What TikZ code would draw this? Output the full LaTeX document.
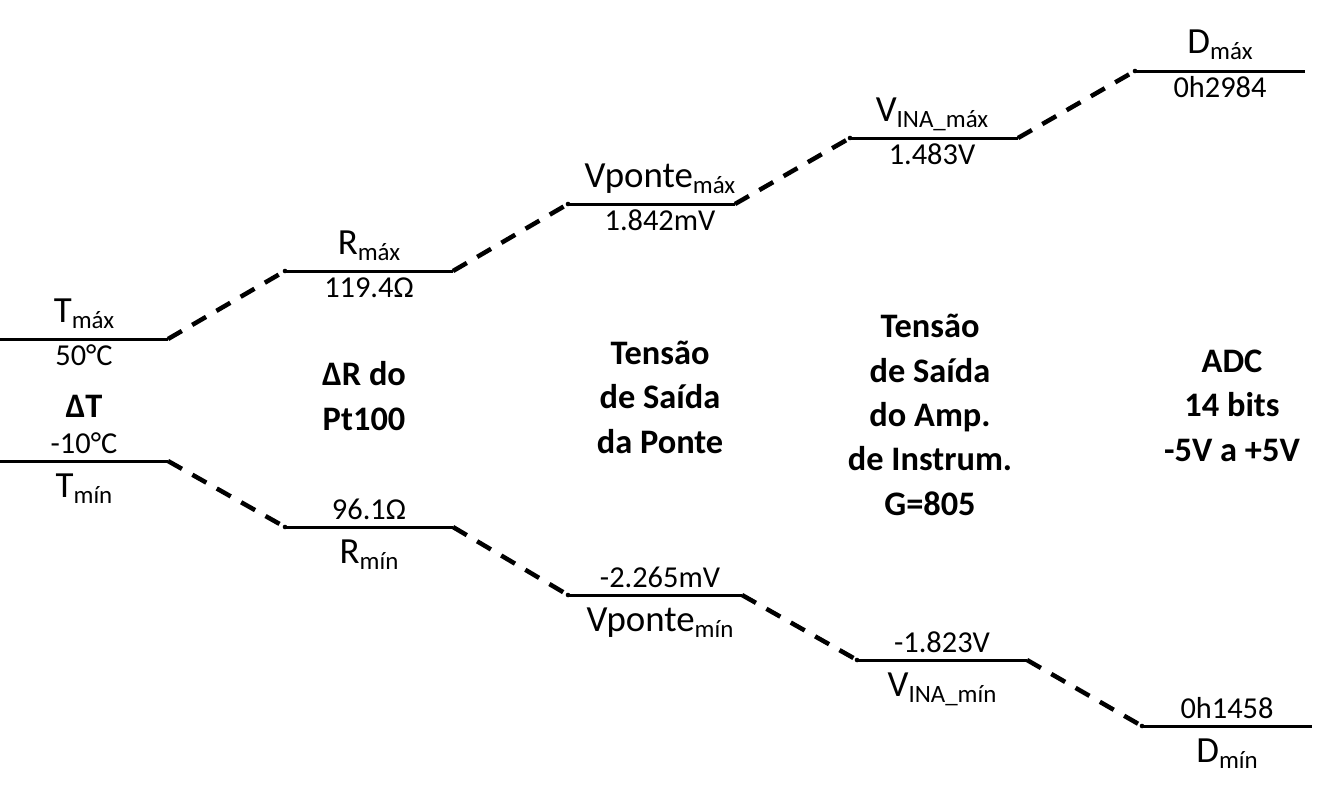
\documentclass[tikz,border=0pt]{standalone}
\usepackage{fontspec}
\setmainfont{Carlito}
\newcommand\lv[2]{#1\raisebox{-6bp}{\fontsize{25}{25}\selectfont #2}}
\begin{document}
\begin{tikzpicture}[x=1bp,y=-1bp,
  levelline/.style={line width=3bp},
  linkline/.style={line width=4.5bp,dash pattern=on 16bp off 12bp},
  enddot/.style={fill,radius=2.3bp},
  lname/.style={font=\fontsize{37}{44}\selectfont,inner sep=0pt,anchor=base},
  lval/.style={font=\fontsize{30.5}{34}\selectfont,inner sep=0pt,anchor=base},
  ltitle/.style={font=\fontsize{34.5}{44.5}\selectfont\bfseries,inner sep=0pt,anchor=base,align=center}]
\useasboundingbox (0,0) rectangle (1318,797);
% level endpoints
\coordinate (tmaxA) at (0,339);   \coordinate (tmaxB) at (168,339);
\coordinate (tminA) at (0,461);   \coordinate (tminB) at (168,461);
\coordinate (rmaxA) at (285,271); \coordinate (rmaxB) at (453,271);
\coordinate (rminA) at (285,527); \coordinate (rminB) at (453,527);
\coordinate (vmaxA) at (568,204); \coordinate (vmaxB) at (735,204);
\coordinate (vminA) at (568,595); \coordinate (vminB) at (742,595);
\coordinate (imaxA) at (850,138); \coordinate (imaxB) at (1018,138);
\coordinate (iminA) at (857,660); \coordinate (iminB) at (1027,660);
\coordinate (dmaxA) at (1135,71); \coordinate (dmaxB) at (1305,71);
\coordinate (dminA) at (1142,726);\coordinate (dminB) at (1312,726);
% levels
\foreach \l in {tmax,tmin,rmax,rmin,vmax,vmin,imax,imin,dmax,dmin}
  \draw[levelline] (\l A) -- (\l B);
\foreach \l in {rmax,rmin,vmax,vmin,imax,imin,dmax,dmin}
  \fill[enddot] (\l A) circle;
% dashed links
\draw[linkline] (tmaxB) -- (rmaxA);
\draw[linkline] (rmaxB) -- (vmaxA);
\draw[linkline] (vmaxB) -- (imaxA);
\draw[linkline] (imaxB) -- (dmaxA);
\draw[linkline] (tminB) -- (rminA);
\draw[linkline] (rminB) -- (vminA);
\draw[linkline] (vminB) -- (iminA);
\draw[linkline] (iminB) -- (dminA);
% labels
\node[lname] (tmaxN) at (84,322) {\lv{T}{máx}};
\node[lval]  (tmaxV) at (84,365) {50°C};
\node[lval]  (tminV) at (84,453) {-10°C};
\node[lname] (tminN) at (84,497) {\lv{T}{mín}};
\node[lname] (rmaxN) at (369,254) {\lv{R}{máx}};
\node[lval]  (rmaxV) at (369,297) {119.4Ω};
\node[lval]  (rminV) at (369,519) {96.1Ω};
\node[lname] (rminN) at (369,563) {\lv{R}{mín}};
\node[lname] (vmaxN) at (660,187) {\lv{Vponte}{máx}};
\node[lval]  (vmaxV) at (660,230) {1.842mV};
\node[lval]  (vminV) at (660,587) {-2.265mV};
\node[lname] (vminN) at (660,631) {\lv{Vponte}{mín}};
\node[lname] (imaxN) at (932,121) {\lv{V}{INA\_máx}};
\node[lval]  (imaxV) at (932,164) {1.483V};
\node[lval]  (iminV) at (942,652) {-1.823V};
\node[lname] (iminN) at (942,696) {\lv{V}{INA\_mín}};
\node[lname] (dmaxN) at (1220,54) {\lv{D}{máx}};
\node[lval]  (dmaxV) at (1220,97) {0h2984};
\node[lval]  (dminV) at (1227,718) {0h1458};
\node[lname] (dminN) at (1227,762) {\lv{D}{mín}};
% stage titles (anchor = baseline of last line)
\node[ltitle] (dT) at (84,417) {ΔT};
\node[ltitle] (dR) at (364,430) {ΔR do\\Pt100};
\node[ltitle] (ponte) at (660,453) {Tensão\\de Saída\\da Ponte};
\node[ltitle] (amp) at (930,515) {Tensão\\de Saída\\do Amp.\\de Instrum.\\G=805};
\node[ltitle] (adc) at (1232,461) {ADC\\14 bits\\-5V a +5V};
\end{tikzpicture}
\end{document}
